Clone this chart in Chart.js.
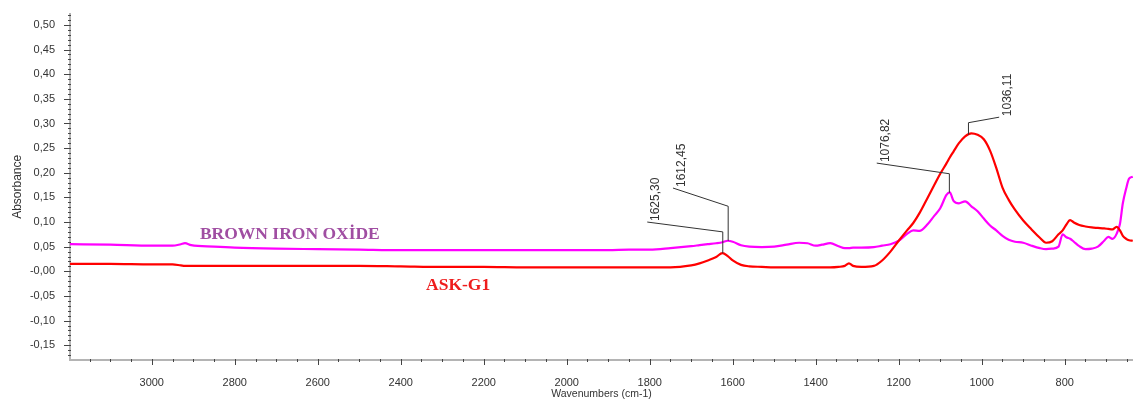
<!DOCTYPE html>
<html>
<head>
<meta charset="utf-8">
<script src="https://cdn.jsdelivr.net/npm/chart.js@4.4.1/dist/chart.umd.min.js"></script>
<style>
  html, body { margin: 0; padding: 0; background: #fff; }
  canvas { display: block; }
</style>
</head>
<body>
<canvas id="ir-chart" width="1133" height="408"></canvas>
<script>
// FTIR spectra, absorbance vs wavenumber (cm-1)

const wavenumbers = [
  3197, 3100, 3000, 2950, 2930, 2920, 2905, 2850, 2800, 2700,
  2600, 2500, 2400, 2300, 2200, 2100, 2000, 1900, 1850, 1800,
  1750, 1700, 1680, 1660, 1640, 1625, 1612, 1600, 1580, 1560,
  1530, 1500, 1470, 1440, 1420, 1400, 1385, 1365, 1345, 1330,
  1320, 1310, 1290, 1260, 1240, 1220, 1200, 1180, 1165, 1150,
  1130, 1115, 1100, 1085, 1077, 1068, 1055, 1040, 1025, 1010,
  995, 980, 965, 950, 935, 920, 900, 880, 860, 845,
  830, 815, 805, 796, 787, 778, 765, 750, 735, 720,
  705, 695, 685, 675, 667, 660, 652, 645, 636
];

const askG1 = [
  0.015, 0.015, 0.014, 0.014, 0.012, 0.011, 0.011, 0.011, 0.011, 0.011,
  0.011, 0.011, 0.010, 0.009, 0.009, 0.008, 0.008, 0.008, 0.008, 0.008,
  0.008, 0.012, 0.016, 0.022, 0.029, 0.037, 0.031, 0.022, 0.013, 0.010,
  0.009, 0.008, 0.008, 0.008, 0.008, 0.008, 0.008, 0.008, 0.009, 0.011,
  0.016, 0.011, 0.009, 0.011, 0.022, 0.040, 0.062, 0.083, 0.098, 0.118,
  0.150, 0.174, 0.198, 0.219, 0.231, 0.243, 0.260, 0.274, 0.280, 0.277,
  0.268, 0.245, 0.210, 0.170, 0.145, 0.125, 0.103, 0.085, 0.068, 0.058,
  0.061, 0.075, 0.083, 0.095, 0.104, 0.099, 0.094, 0.091, 0.089, 0.088,
  0.087, 0.086, 0.085, 0.090, 0.083, 0.072, 0.066, 0.063, 0.062
];

const brownIronOxide = [
  0.055, 0.054, 0.052, 0.052, 0.055, 0.057, 0.053, 0.050, 0.048, 0.046,
  0.045, 0.044, 0.043, 0.043, 0.043, 0.043, 0.043, 0.043, 0.044, 0.044,
  0.047, 0.051, 0.053, 0.055, 0.057, 0.059, 0.062, 0.060, 0.053, 0.050,
  0.049, 0.050, 0.054, 0.058, 0.057, 0.052, 0.054, 0.057, 0.051, 0.047,
  0.047, 0.048, 0.048, 0.049, 0.052, 0.055, 0.062, 0.076, 0.083, 0.082,
  0.096, 0.112, 0.128, 0.155, 0.160, 0.143, 0.138, 0.142, 0.132, 0.122,
  0.107, 0.093, 0.083, 0.072, 0.064, 0.060, 0.058, 0.052, 0.047, 0.045,
  0.046, 0.050, 0.075, 0.069, 0.066, 0.060, 0.051, 0.045, 0.046, 0.050,
  0.062, 0.070, 0.066, 0.076, 0.096, 0.138, 0.168, 0.188, 0.192
];

const xTickValues = [3000, 2800, 2600, 2400, 2200, 2000, 1800, 1600, 1400, 1200, 1000, 800];
const yTickValues = [-0.15, -0.10, -0.05, 0, 0.05, 0.10, 0.15, 0.20, 0.25, 0.30, 0.35, 0.40, 0.45, 0.50];

const seriesNames = ["ASK-G1", "BROWN IRON OXİDE"];
const peakTexts = ["1625,30", "1612,45", "1076,82", "1036,11"];
const peakWavenumbers = [1624, 1611, 1078, 1032];

// leader lines: which series the peak sits on, knee height, and label end point (data units)
const leaders = [
  { series: 0, knee: 0.080, endX: 1806, endY: 0.100 },
  { series: 1, knee: 0.132, endX: 1744, endY: 0.169 },
  { series: 1, knee: 0.198, endX: 1253, endY: 0.2196 },
  { series: 0, knee: 0.3016, endX: 958, endY: 0.3128 }
];

// in-plot series captions (data units of the baseline start)
const captions = [
  { text: seriesNames[1], x: 2884, y: 0.066, color: "#a04ea2" },
  { text: seriesNames[0], x: 2339, y: -0.038, color: "#ee1c1c" }
];

const seriesValues = [askG1, brownIronOxide];
const toPoints = ys => wavenumbers.map((w, i) => ({ x: w, y: ys[i] }));

function valueAt(ys, w) {
  for (let i = 0; i < wavenumbers.length - 1; i++) {
    const a = wavenumbers[i], b = wavenumbers[i + 1];
    if (w <= a && w >= b) {
      const t = (a - w) / (a - b);
      return ys[i] + t * (ys[i + 1] - ys[i]);
    }
  }
  return ys[ys.length - 1];
}

const FONT = "'Liberation Sans', Arial, sans-serif";
Chart.defaults.font.family = FONT;
Chart.defaults.color = "#333";

const decorations = {
  id: "decorations",
  afterDatasetsDraw(chart) {
    const ctx = chart.ctx;
    const xs = chart.scales.x, ys = chart.scales.y;
    const area = chart.chartArea;
    ctx.save();

    // tick marks (major + minor)
    ctx.strokeStyle = "#444";
    ctx.lineWidth = 1;
    for (let v = -17; v <= 52; v++) {
      const y = Math.round(ys.getPixelForValue(v / 100)) + 0.5;
      const len = v % 5 === 0 ? 6 : 2;
      ctx.beginPath();
      ctx.moveTo(area.left - len, y);
      ctx.lineTo(area.left + 1, y);
      ctx.stroke();
    }
    for (let w = 650; w <= 3150; w += 50) {
      const x = Math.round(xs.getPixelForValue(w)) + 0.5;
      const major = w % 200 === 0;
      ctx.beginPath();
      ctx.moveTo(x, area.bottom - 1);
      ctx.lineTo(x, area.bottom + (major ? 5 : 2));
      ctx.stroke();
    }

    // peak leaders and rotated labels
    ctx.strokeStyle = "#333";
    ctx.fillStyle = "#333";
    ctx.font = "12px " + FONT;
    peakTexts.forEach((txt, i) => {
      const L = leaders[i];
      const w = peakWavenumbers[i];
      const px = xs.getPixelForValue(w);
      const py = ys.getPixelForValue(valueAt(seriesValues[L.series], w));
      const ky = ys.getPixelForValue(L.knee);
      const ex = xs.getPixelForValue(L.endX);
      const ey = ys.getPixelForValue(L.endY);
      ctx.beginPath();
      ctx.moveTo(px, py);
      ctx.lineTo(px, ky);
      ctx.lineTo(ex, ey);
      ctx.stroke();
      ctx.save();
      ctx.translate(ex + 12, ey - 1);
      ctx.rotate(-Math.PI / 2);
      ctx.textAlign = "left";
      ctx.textBaseline = "alphabetic";
      ctx.fillText(txt, 0, 0);
      ctx.restore();
    });

    // series captions
    ctx.font = "bold 17.5px 'Liberation Serif', 'Times New Roman', serif";
    ctx.textAlign = "left";
    ctx.textBaseline = "alphabetic";
    captions.forEach(c => {
      ctx.fillStyle = c.color;
      ctx.fillText(c.text, xs.getPixelForValue(c.x), ys.getPixelForValue(c.y));
    });
    ctx.restore();
  }
};

new Chart(document.getElementById("ir-chart"), {
  type: "line",
  data: {
    datasets: [
      {
        label: seriesNames[0],
        data: toPoints(askG1),
        borderColor: "#ff0000",
        borderWidth: 2.2,
        pointRadius: 0,
        cubicInterpolationMode: "monotone",
        fill: false
      },
      {
        label: seriesNames[1],
        data: toPoints(brownIronOxide),
        borderColor: "#ff00ff",
        borderWidth: 2.2,
        pointRadius: 0,
        cubicInterpolationMode: "monotone",
        fill: false
      }
    ]
  },
  options: {
    responsive: false,
    animation: false,
    devicePixelRatio: 1,
    layout: { padding: { top: 3, right: 0, left: 0, bottom: 0 } },
    plugins: {
      legend: { display: false },
      tooltip: { enabled: false }
    },
    scales: {
      x: {
        type: "linear",
        reverse: true,
        min: 635.5,
        max: 3197,
        afterBuildTicks: s => { s.ticks = xTickValues.map(v => ({ value: v })); },
        afterFit: s => { s.height = 48; s.paddingLeft = 0; s.paddingRight = 0; },
        grid: { display: false },
        border: { display: true, color: "#b4b4b4", width: 2 },
        ticks: {
          padding: 8,
          maxRotation: 0,
          autoSkip: false,
          font: { size: 11 },
          color: "#333",
          callback: v => String(v)
        },
        title: {
          display: true,
          text: "Wavenumbers (cm-1)",
          font: { size: 10.5 },
          color: "#333",
          padding: { top: 0, bottom: 8 }
        }
      },
      y: {
        min: -0.18,
        max: 0.523,
        afterBuildTicks: s => { s.ticks = yTickValues.map(v => ({ value: v })); },
        afterFit: s => { s.width = 70; },
        grid: { display: false },
        border: { display: true, color: "#b4b4b4", width: 2 },
        ticks: {
          padding: 7,
          font: { size: 11 },
          color: "#333",
          callback: v => v === 0 ? "-0,00" : v.toFixed(2).replace(".", ",")
        },
        title: {
          display: true,
          text: "Absorbance",
          font: { size: 12 },
          color: "#333",
          padding: { top: 10, bottom: 0 }
        }
      }
    }
  },
  plugins: [decorations]
});
</script>
</body>
</html>
